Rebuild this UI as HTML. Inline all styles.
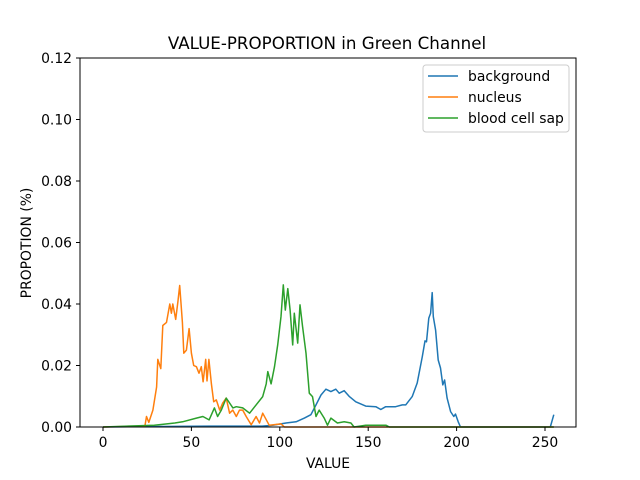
<!DOCTYPE html>
<html><head><meta charset="utf-8"><style>
body{margin:0;background:#fff;}
svg{display:block;font-family:"DejaVu Sans","Liberation Sans",sans-serif;}
</style></head><body>
<svg id="chart" width="640" height="480">
<rect x="0" y="0" width="640" height="480" fill="#fff"/>
<text x="327" y="49" text-anchor="middle" font-size="16.7">VALUE-PROPORTION in Green Channel</text>
<g id="plot"></g>
<rect x="80" y="58" width="496" height="369" fill="none" stroke="#000" stroke-width="1"/>
<g id="xaxis"></g><g id="yaxis"></g>
<text x="328" y="468" text-anchor="middle" font-size="13.9">VALUE</text>
<text transform="translate(31,243) rotate(-90)" text-anchor="middle" font-size="13.9">PROPOTION (%)</text>
<g>
<rect x="423" y="65" width="146" height="67" rx="3" fill="#fff" fill-opacity="0.8" stroke="#ccc"/>
<g><line x1="428" y1="76" x2="458" y2="76" stroke="#1f77b4" stroke-width="1.5"/><text x="468" y="81" font-size="13.9">background</text></g>
<g><line x1="428" y1="97" x2="458" y2="97" stroke="#ff7f0e" stroke-width="1.5"/><text x="468" y="102" font-size="13.9">nucleus</text></g>
<g><line x1="428" y1="118" x2="458" y2="118" stroke="#2ca02c" stroke-width="1.5"/><text x="468" y="123" font-size="13.9">blood cell sap</text></g>
</g>
</svg>
<script>
const xTicks=[0,50,100,150,200,250];
const yTicks=[0,0.02,0.04,0.06,0.08,0.10,0.12];
const yTickLabels=["0.00","0.02","0.04","0.06","0.08","0.10","0.12"];
const bgX=[0,60,90,96,103.5,109.2,113.9,117.6,120.5,123.3,126.1,128.9,131.7,133.6,136.4,139.2,143,148.6,154.3,157.1,159.9,165.5,169.3,171.2,174.9,177.7,180.6,182.1,183,184.3,185.3,186.2,186.8,188.1,189.6,190.9,192.2,193.2,194.6,196.6,198.4,199.4,200.9,202.2,253,255];
const bgY=[0,0.0003,0.0003,0.0006,0.0013,0.0017,0.0029,0.004,0.0072,0.0104,0.0123,0.0115,0.0123,0.011,0.0118,0.01,0.0082,0.0068,0.0066,0.0057,0.0066,0.0066,0.0072,0.0072,0.0099,0.0143,0.0229,0.028,0.0277,0.0354,0.037,0.0437,0.0359,0.0315,0.0218,0.0192,0.0137,0.0153,0.0094,0.005,0.0034,0.0042,0.0017,0,0,0.004];
const nuX=[0,23.7,24.6,25.9,28.2,30.3,31,32.7,33.8,35.9,37.8,38.7,39.5,41.1,42.4,43.4,44.9,45.7,47.2,48.7,50,51.3,52.8,54.3,55.6,56.6,58.1,58.8,59.9,61.3,62.6,64.1,66,67.7,69.7,71.6,73.4,75.4,77.2,79,81,83.8,86.6,88.5,90.3,94,100.7,102.6,255];
const nuY=[0,0.0003,0.0034,0.0015,0.0055,0.013,0.022,0.019,0.033,0.034,0.040,0.037,0.040,0.035,0.041,0.046,0.034,0.024,0.025,0.032,0.024,0.020,0.0196,0.0175,0.0196,0.0147,0.022,0.015,0.022,0.014,0.0082,0.0088,0.0055,0.0078,0.0094,0.0045,0.0055,0.0034,0.0055,0.0055,0.0034,0.0007,0.0034,0.0013,0.0045,0.0006,0.001,0,0];
const bcX=[0,29,40.6,45,52.8,56.5,60,63,64.8,66.9,69.7,71.6,73.5,75.4,79,82.9,86.6,90.3,92.3,93.2,95.1,97,98.8,100.7,102,103.1,104.5,105.8,107.3,108.2,110.1,111.4,112.9,114.8,116.7,118.5,120.5,122.3,125.1,127,128.9,132.6,136.4,140.2,142,148.6,160,162,255];
const bcY=[0,0.0006,0.0013,0.0017,0.0029,0.0034,0.0023,0.0062,0.0034,0.0055,0.0094,0.0078,0.0062,0.0066,0.0062,0.0045,0.0072,0.0099,0.014,0.018,0.014,0.0196,0.0267,0.0359,0.0462,0.038,0.045,0.038,0.0267,0.037,0.0273,0.0397,0.0326,0.024,0.011,0.0099,0.0034,0.0055,0.0029,0.0006,0.0029,0.0013,0.0017,0.0013,0,0.0006,0.0006,0,0];
const NS="http://www.w3.org/2000/svg";
function sx(v){return 103+v*(545-103)/250;}
function sy(v){return 427-v*(427-58)/0.12;}
const plot=document.getElementById('plot');
function series(xs,ys,color,name){
  const p=document.createElementNS(NS,'polyline');
  p.setAttribute('points',xs.map((x,i)=>sx(x).toFixed(1)+','+sy(ys[i]).toFixed(1)).join(' '));
  p.setAttribute('fill','none');p.setAttribute('stroke',color);p.setAttribute('stroke-width','1.5');p.setAttribute('stroke-linejoin','round');
  
  
  plot.appendChild(p);
}
series(bgX,bgY,'#1f77b4','background-line');
series(nuX,nuY,'#ff7f0e','nucleus-line');
series(bcX,bcY,'#2ca02c','blood-cell-sap-line');
const xa=document.getElementById('xaxis');
xTicks.forEach(t=>{
  const l=document.createElementNS(NS,'line');
  l.setAttribute('x1',sx(t));l.setAttribute('x2',sx(t));l.setAttribute('y1',427);l.setAttribute('y2',431);l.setAttribute('stroke','#000');
  
  
  xa.appendChild(l);
  const tx=document.createElementNS(NS,'text');
  tx.setAttribute('x',sx(t));tx.setAttribute('y',447);tx.setAttribute('text-anchor','middle');tx.setAttribute('font-size','13.9');
  tx.textContent=t;
  
  
  xa.appendChild(tx);
});
const ya=document.getElementById('yaxis');
yTicks.forEach((t,i)=>{
  const l=document.createElementNS(NS,'line');
  l.setAttribute('x1',76);l.setAttribute('x2',80);l.setAttribute('y1',sy(t));l.setAttribute('y2',sy(t));l.setAttribute('stroke','#000');
  
  
  ya.appendChild(l);
  const tx=document.createElementNS(NS,'text');
  tx.setAttribute('x',72);tx.setAttribute('y',sy(t)+5);tx.setAttribute('text-anchor','end');tx.setAttribute('font-size','13.9');
  tx.textContent=yTickLabels[i];
  
  
  ya.appendChild(tx);
});
</script>
</body></html>
